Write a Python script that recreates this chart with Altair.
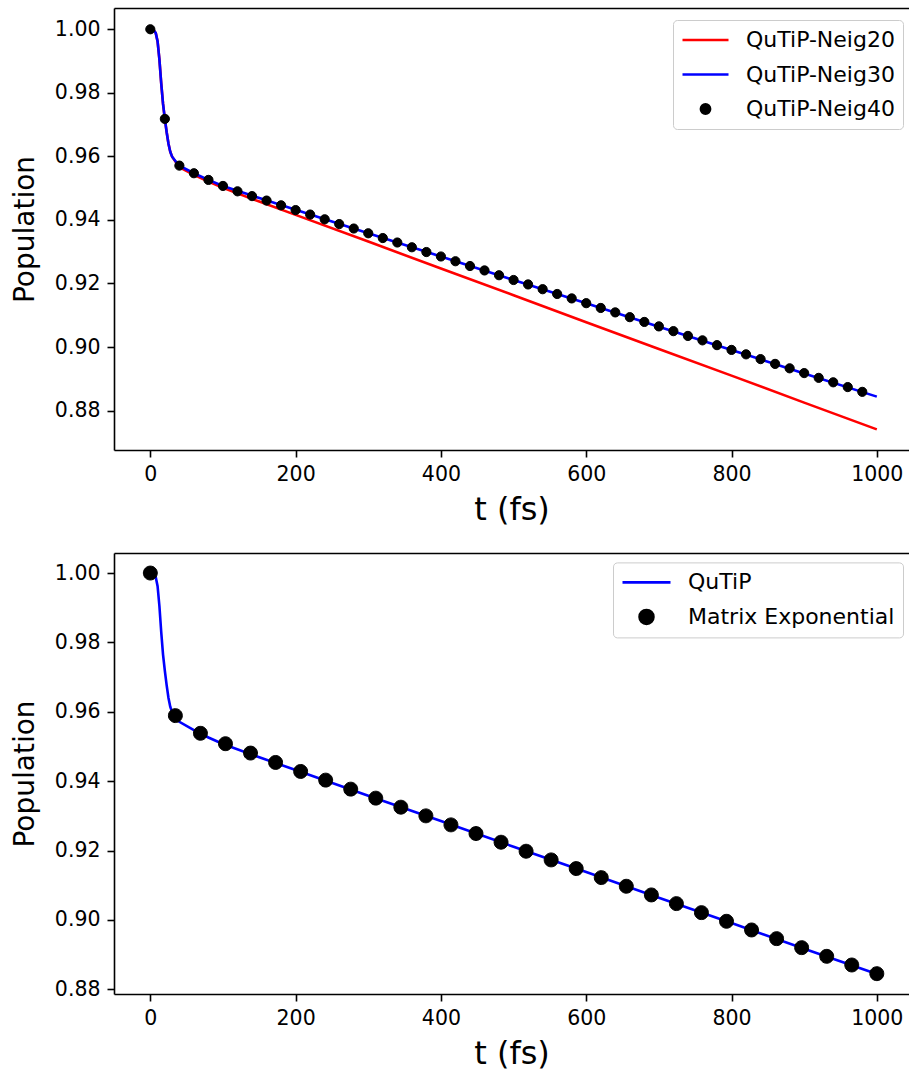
import altair as alt
import pandas as pd

FONT = "DejaVu Sans"

# ---------------- upper panel: convergence in number of eigenstates ----------------
t_curve = [0, 2.5, 5, 7.5, 10, 12.5, 15, 17.5, 20, 22.5, 25, 27.5, 30, 35,
           40, 60, 80, 100, 150, 200, 300, 400, 500, 600, 700, 800, 900, 1000]
pop_neig20 = [1.0000, 0.9999, 0.9996, 0.9988, 0.9962, 0.9905, 0.9830, 0.9765,
              0.9718, 0.9676, 0.9640, 0.9614, 0.9599, 0.9582,
              0.9566, 0.9542, 0.9521, 0.9501, 0.9458, 0.9416, 0.9332, 0.9247,
              0.9163, 0.9078, 0.8994, 0.8910, 0.8825, 0.8741]
pop_neig30 = [1.0000, 0.9999, 0.9996, 0.9988, 0.9962, 0.9905, 0.9830, 0.9765,
              0.9718, 0.9676, 0.9640, 0.9614, 0.9599, 0.9584,
              0.9571, 0.9547, 0.9526, 0.9507, 0.9469, 0.9432, 0.9358, 0.9285,
              0.9211, 0.9138, 0.9064, 0.8991, 0.8917, 0.8844]
t_neig40 = [0, 20, 40, 60, 80, 100, 120, 140, 160, 180,
            200, 220, 240, 260, 280, 300, 320, 340, 360, 380,
            400, 420, 440, 460, 480, 500, 520, 540, 560, 580,
            600, 620, 640, 660, 680, 700, 720, 740, 760, 780,
            800, 820, 840, 860, 880, 900, 920, 940, 960, 980]
pop_neig40 = [1.0000, 0.9718, 0.9571, 0.9547, 0.9526, 0.9507, 0.9490, 0.9475, 0.9461, 0.9446,
              0.9431, 0.9417, 0.9402, 0.9387, 0.9373, 0.9358, 0.9343, 0.9329, 0.9314, 0.9299,
              0.9285, 0.9270, 0.9255, 0.9241, 0.9226, 0.9211, 0.9197, 0.9182, 0.9167, 0.9153,
              0.9138, 0.9123, 0.9109, 0.9094, 0.9079, 0.9065, 0.9050, 0.9035, 0.9021, 0.9006,
              0.8991, 0.8977, 0.8962, 0.8947, 0.8933, 0.8918, 0.8903, 0.8889, 0.8874, 0.8859]

# ---------------- lower panel: QuTiP vs. matrix exponential ----------------
t_qutip = t_curve
pop_qutip = [1.0000, 0.9999, 0.9996, 0.9988, 0.9962, 0.9905, 0.9830, 0.9765,
             0.9718, 0.9676, 0.9640, 0.9614, 0.9599, 0.9584,
             0.9571, 0.9547, 0.9526, 0.9507, 0.9469, 0.9432, 0.9358, 0.9285,
             0.9211, 0.9138, 0.9064, 0.8991, 0.8917, 0.8844]
t_expm = [0, 34.48, 68.97, 103.45, 137.93, 172.41, 206.90, 241.38, 275.86, 310.34,
          344.83, 379.31, 413.79, 448.28, 482.76, 517.24, 551.72, 586.21, 620.69, 655.17,
          689.66, 724.14, 758.62, 793.10, 827.59, 862.07, 896.55, 931.03, 965.52, 1000]
pop_expm = [1.0000, 0.9589, 0.9538, 0.9508, 0.9481, 0.9454, 0.9428, 0.9403, 0.9377, 0.9351,
            0.9325, 0.9300, 0.9274, 0.9249, 0.9224, 0.9198, 0.9173, 0.9148, 0.9122, 0.9097,
            0.9072, 0.9047, 0.9021, 0.8996, 0.8971, 0.8946, 0.8920, 0.8895, 0.8870, 0.8845]

X_TICKS = [0, 200, 400, 600, 800, 1000]
Y_TICKS = [0.88, 0.90, 0.92, 0.94, 0.96, 0.98, 1.00]
X_DOMAIN = [-50, 1044.3]


def disc(r):
    """Unit-box SVG path of a disc of radius r (symbols scale it by sqrt(size)/2)."""
    return f"M{-r},0A{r},{r} 0 1,0 {r},0A{r},{r} 0 1,0 {-r},0Z"


LINE_GLYPH = "M-1,0H1"


def series_frame(t, pop, name):
    return pd.DataFrame({"t": t, "pop": pop, "series": name})


def panel(line_frames, dot_frame, names, colors, glyphs, glyph_size, y_domain,
          plot_h, leg_x, leg_y):
    x_scale = alt.Scale(domain=X_DOMAIN, nice=False, zero=False)
    y_scale = alt.Scale(domain=y_domain, nice=False, zero=False)
    color_scale = alt.Scale(domain=names, range=colors)

    legend = alt.Legend(
        title=None, orient="none", legendX=leg_x, legendY=leg_y,
        labelFont=FONT, labelFontSize=22, labelColor="black", labelLimit=400,
        strokeColor="#cccccc", fillColor="white", cornerRadius=4,
        padding=8, clipHeight=24, rowPadding=10.5, labelOffset=16,
        symbolStrokeWidth=2.6, symbolSize=glyph_size,
    )

    x_bottom = alt.Axis(values=X_TICKS, format="d", title="t (fs)")
    x_top = alt.Axis(orient="top", labels=False, ticks=False, title=None)
    y_left = alt.Axis(values=Y_TICKS, format=".2f", title="Population",
                      titleFontSize=28, titlePadding=15)

    layers = []
    for i, frame in enumerate(line_frames):
        layers.append(
            alt.Chart(frame).mark_line(strokeWidth=2.6, color=colors[i]).encode(
                x=alt.X("t:Q", scale=x_scale, axis=x_bottom if i == 0 else None),
                y=alt.Y("pop:Q", scale=y_scale, axis=y_left),
                detail="series:N",
            )
        )

    dots = alt.Chart(dot_frame).mark_point(
        filled=False, fill="black", strokeWidth=1, opacity=1, size=glyph_size
    ).encode(
        x=alt.X("t:Q", scale=x_scale, axis=x_top),
        y=alt.Y("pop:Q", scale=y_scale, axis=y_left),
        color=alt.Color("series:N", scale=color_scale, legend=legend),
        shape=alt.Shape("series:N", scale=alt.Scale(domain=names, range=glyphs), legend=legend),
    )
    layers.append(dots)

    return alt.layer(*layers).resolve_axis(x="independent").properties(
        width=795, height=plot_h
    )


top = panel(
    [series_frame(t_curve, pop_neig20, "QuTiP-Neig20"),
     series_frame(t_curve, pop_neig30, "QuTiP-Neig30")],
    series_frame(t_neig40, pop_neig40, "QuTiP-Neig40"),
    ["QuTiP-Neig20", "QuTiP-Neig30", "QuTiP-Neig40"],
    ["#ff0000", "#0000ff", "#000000"],
    [LINE_GLYPH, LINE_GLYPH, disc(0.2)],
    2116,
    [0.8676, 1.0067], 442, 559, 12,
)

bottom = panel(
    [series_frame(t_qutip, pop_qutip, "QuTiP")],
    series_frame(t_expm, pop_expm, "Matrix Exponential"),
    ["QuTiP", "Matrix Exponential"],
    ["#0000ff", "#000000"],
    [LINE_GLYPH, disc(0.29)],
    2304,
    [0.87864, 1.00578], 441, 499, 9.4,
)

chart = alt.vconcat(top, bottom, spacing=103, bounds="flush").resolve_scale(
    color="independent", shape="independent"
).properties(
    padding={"left": 11, "top": 8, "right": 0, "bottom": 10},
    background="white",
).configure_view(
    stroke=None
).configure_axis(
    grid=False,
    domainColor="black", domainWidth=1.6,
    tickColor="black", tickWidth=1.6, tickSize=7,
    labelFont=FONT, labelFontSize=20.5, labelColor="black", labelPadding=7,
    titleFont=FONT, titleFontSize=32, titleFontWeight="normal", titleColor="black",
    titlePadding=10,
)

chart.save("out.html", embed_options={"renderer": "svg", "actions": False})
